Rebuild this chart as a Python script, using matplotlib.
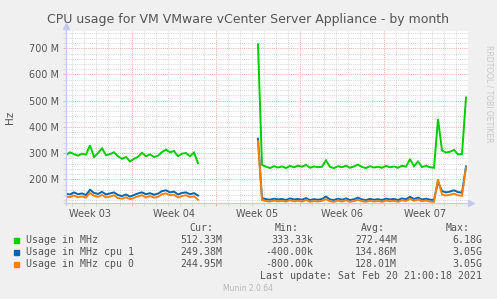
import numpy as np
import matplotlib
matplotlib.use("Agg")
import matplotlib.pyplot as plt

# values in M (millions of Hz); samples every 1/3 day
green_a = [293, 303, 296, 290, 298, 294, 330, 285, 300, 318, 292, 296, 303, 288, 278, 285, 268,
           278, 286, 301, 288, 295, 285, 290, 304, 313, 303, 308, 288, 298, 300, 288, 302, 262]
blue_a = [145, 142, 150, 143, 146, 140, 160, 148, 144, 152, 142, 146, 150, 140, 136, 142, 134,
          140, 146, 150, 143, 147, 141, 145, 155, 158, 150, 153, 142, 148, 150, 143, 147, 138]
orange_a = [134, 132, 138, 131, 135, 130, 148, 137, 133, 140, 131, 134, 139, 128, 126, 131, 124,
            129, 135, 139, 131, 136, 130, 133, 143, 146, 139, 141, 131, 136, 139, 132, 135, 122]

green_b = [715, 255, 248, 243, 250, 245, 249, 243, 251, 246, 252, 248, 255, 244, 249, 246, 248,
           272, 247, 243, 250, 246, 252, 244, 249, 256, 247, 243, 250, 245, 248, 244, 251, 246,
           249, 244, 252, 248, 277, 250, 268, 247, 251, 246, 244, 430, 310, 302, 305, 312, 295,
           296, 512]
blue_b = [355, 128, 124, 122, 126, 123, 125, 121, 127, 123, 125, 122, 128, 121, 124, 122, 125,
          134, 123, 121, 126, 122, 127, 121, 124, 130, 123, 121, 125, 122, 124, 121, 126, 123,
          125, 121, 127, 124, 133, 125, 130, 123, 126, 122, 121, 190, 155, 150, 153, 158, 151,
          149, 249]
orange_b = [345, 121, 117, 115, 119, 116, 118, 115, 120, 116, 118, 115, 121, 114, 117, 115, 118,
            124, 116, 114, 119, 115, 120, 114, 117, 122, 116, 114, 118, 115, 117, 114, 119, 116,
            118, 114, 120, 117, 125, 118, 123, 116, 119, 115, 114, 200, 142, 138, 141, 145, 139,
            137, 245]

start_a, start_b = 0.0, 16.0          # day offsets of the two data runs
week_lines = [5.46, 12.46, 19.46, 26.46]
week_labels = ["Week 03", "Week 04", "Week 05", "Week 06", "Week 07"]

legend_names = ["Usage in MHz", "Usage in MHz cpu 1", "Usage in MHz cpu 0"]
cur = ["512.33M", "249.38M", "244.95M"]
mn = ["333.33k", "-400.00k", "-800.00k"]
avg = ["272.44M", "134.86M", "128.01M"]
mx = ["6.18G", "3.05G", "3.05G"]
colors = ["#00CC00", "#0066B3", "#FF8000"]

ta = start_a + np.arange(len(green_a)) / 3
tb = start_b + np.arange(len(green_b)) / 3

fig = plt.figure(figsize=(4.97, 2.99), dpi=100, facecolor="#F0F0F0")
ax = fig.add_axes([66/497, 96/299, 402/497, 172/299])
ax.set_facecolor("white")

for t, series in [(ta, [green_a, blue_a, orange_a]), (tb, [green_b, blue_b, orange_b])]:
    for s, c in zip(series, colors):
        ax.plot(t, s, color=c, lw=1.4, solid_joinstyle="miter")

ax.set_xlim(0, 33.5)
ax.set_ylim(109.5, 766)
ax.set_yticks(range(200, 701, 100))
ax.set_yticks(range(120, 766, 20), minor=True)
ax.set_yticklabels([f"{v} M" for v in range(200, 701, 100)])
ax.set_xticks(week_lines)
ax.set_xticks(np.arange(0.46, 33.5, 1.0), minor=True)
ax.set_xticklabels([])
for x, lab in zip([w - 3.5 for w in week_lines] + [week_lines[-1] + 3.5], week_labels):
    ax.text(x, -0.035, lab, transform=ax.get_xaxis_transform(), ha="center", va="top",
            fontsize=7, color="#555555")

dot = (0, (1, 1.2))
ax.grid(which="minor", color="#d4d4d4", ls=dot, lw=0.7)
ax.grid(which="major", color="#f0a8a8", ls=dot, lw=0.7)
ax.set_axisbelow(True)
ax.tick_params(which="both", length=2, width=0.6, labelsize=7, labelcolor="#555555", pad=3)
ax.tick_params(which="major", color="#f0a8a8")
ax.tick_params(which="minor", color="#d4d4d4")
for sp in ax.spines.values():
    sp.set_visible(False)

axc = "#c8c8f0"
ax.plot([-0.005, 1.008], [0, 0], color=axc, lw=0.9, transform=ax.transAxes, clip_on=False)
ax.plot([0, 0], [-0.01, 1.03], color=axc, lw=0.9, transform=ax.transAxes, clip_on=False)
ax.plot([1.008], [0], marker=">", ms=4, color=axc, transform=ax.transAxes, clip_on=False)
ax.plot([0], [1.03], marker="^", ms=4, color=axc, transform=ax.transAxes, clip_on=False)

fig.text(248/497, 1 - 19/299, "CPU usage for VM VMware vCenter Server Appliance - by month",
         ha="center", va="center", fontsize=9.0, color="#555555")
fig.text(10/497, 1 - 117/299, "Hz", rotation=90, ha="center", va="center", fontsize=7.5,
         color="#555555")
fig.text(489/497, 1 - 45/299, "RRDTOOL / TOBI OETIKER", rotation=270, ha="center", va="top",
         fontsize=5.5, color="#c8c8c8")

mono = dict(family="DejaVu Sans Mono", fontsize=7.1, color="#555555", va="center")
def fy(py):
    return 1 - py / 299

for hx, h in zip([213, 299, 385, 470], ["Cur:", "Min:", "Avg:", "Max:"]):
    fig.text(hx/497, fy(228), h, ha="right", **mono)
for i, name in enumerate(legend_names):
    y = 240 + i * 12
    fig.patches.append(plt.Rectangle((14/497, fy(y + 2.5)), 5/497, 5/299, color=colors[i],
                                     transform=fig.transFigure, figure=fig))
    fig.text(26/497, fy(y), name, ha="left", **mono)
    fig.text(222/497, fy(y), cur[i], ha="right", **mono)
    fig.text(313/497, fy(y), mn[i], ha="right", **mono)
    fig.text(397/497, fy(y), avg[i], ha="right", **mono)
    fig.text(482/497, fy(y), mx[i], ha="right", **mono)
fig.text(482/497, fy(276), "Last update: Sat Feb 20 21:00:18 2021", ha="right", **mono)
fig.text(248/497, fy(288.5), "Munin 2.0.64", ha="center", va="center", fontsize=5.5,
         color="#b8b8b8")

fig.savefig("out.png", dpi=100, facecolor=fig.get_facecolor())
